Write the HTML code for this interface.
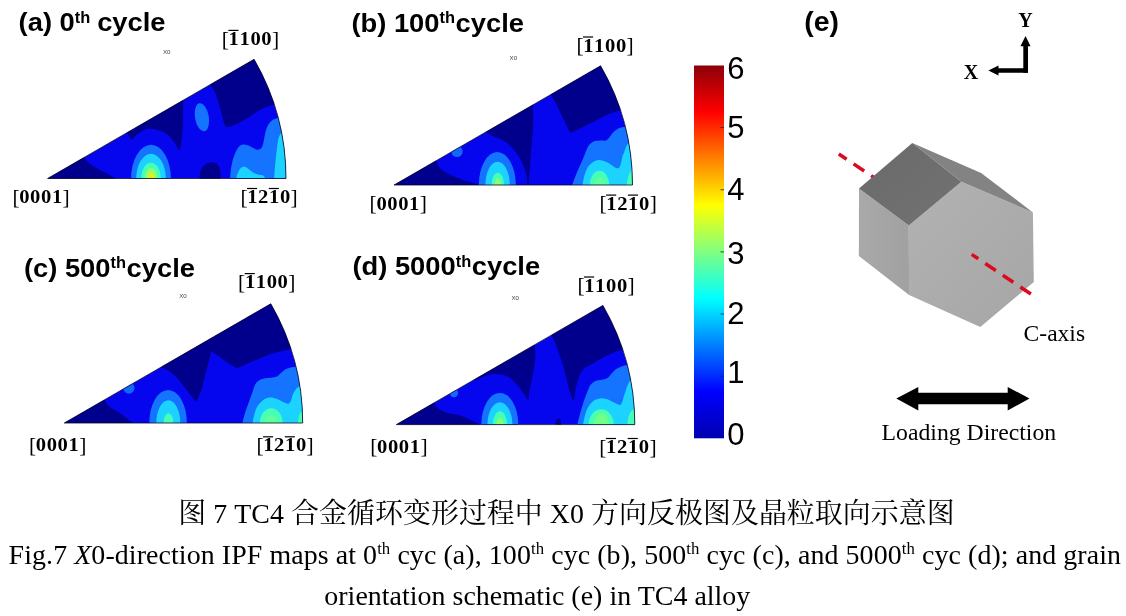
<!DOCTYPE html>
<html lang="zh"><head><meta charset="utf-8"><title>Fig.7</title>
<style>
html,body{margin:0;padding:0;background:#fff;}
body{width:1126px;height:616px;overflow:hidden;}
svg{display:block;}
text{white-space:pre;}
</style></head><body>
<svg width="1126" height="616" viewBox="0 0 1126 616">
<rect width="1126" height="616" fill="#ffffff"/>
<clipPath id="ca"><path d="M47.6 178.5 L254.1 59.3 A238.4 238.4 0 0 1 286.0 178.5 Z"/></clipPath>
<g clip-path="url(#ca)">
<path d="M47.6 178.5 L254.1 59.3 A238.4 238.4 0 0 1 286.0 178.5 Z" fill="#0606ee"/>
<path d="M82.7 155.1C83.1 155.6 84.0 157.2 85.0 158.5C86.1 159.9 86.8 161.4 89.0 163.1C91.1 164.9 94.7 167.2 97.7 168.9C100.7 170.6 103.7 171.8 107.0 173.5C110.2 175.3 115.6 178.3 117.4 179.3L117.4 188.5L40.0 188.5L40.0 165.5Z" fill="#00008c"/>
<path d="M183.6 95.0C183.5 97.5 183.3 104.8 183.2 110.0C183.0 115.2 183.0 120.8 182.7 126.2C182.4 131.6 181.9 138.4 181.3 142.4C180.7 146.4 180.1 149.8 179.2 150.2C178.4 150.7 177.5 147.0 176.2 145.1C175.0 143.2 173.3 140.8 171.6 138.9C169.9 137.0 168.2 135.0 165.8 133.6C163.5 132.1 160.8 130.9 157.8 130.1C154.7 129.3 150.4 128.2 147.4 128.7C144.3 129.2 141.4 131.7 139.3 133.1C137.2 134.5 135.9 136.0 134.7 137.1C133.4 138.1 132.8 139.7 131.9 139.6C131.0 139.5 130.0 137.6 129.1 136.4C128.3 135.1 127.2 132.9 126.8 132.2L123.1 119.3L183.6 84.6Z" fill="#00008c"/>
<path d="M199.3 181.6C199.6 179.8 199.5 173.5 200.7 170.5C201.9 167.5 204.4 165.0 206.7 163.6C209.1 162.3 212.6 161.7 214.8 162.5C216.9 163.2 218.6 165.0 219.6 168.2C220.7 171.4 220.8 179.4 221.0 181.6L221.0 188.5L199.3 188.5Z" fill="#00008c"/>
<path d="M283.0 102.0C281.8 102.4 278.1 103.5 275.5 104.3C272.9 105.1 269.9 105.8 267.7 106.6C265.4 107.4 263.4 108.3 262.0 109.0C260.6 109.7 260.2 109.8 259.0 110.5C257.8 111.2 256.4 112.2 254.5 113.4C252.6 114.7 250.1 116.5 247.7 118.0C245.2 119.5 242.5 121.2 239.8 122.5C237.2 123.8 233.9 125.2 231.8 125.9C229.7 126.7 228.4 127.2 227.2 127.0C226.0 126.8 225.5 126.0 224.8 124.8C224.1 123.6 223.8 122.2 223.2 120.0C222.6 117.8 222.0 114.7 221.1 111.4C220.2 108.1 218.8 103.4 217.7 100.0C216.6 96.6 215.6 93.6 214.3 90.9C213.0 88.2 211.2 86.2 209.8 83.9C208.4 81.6 206.6 78.2 206.0 77.0L254.0 40.0L300.0 60.0L300.0 100.0Z" fill="#00008c"/>
<ellipse cx="201.9" cy="117.2" rx="6.9" ry="14.2" transform="rotate(-10.0 201.9 117.2)" fill="#1474ff"/>
<path d="M230.0 181.0C230.1 179.8 230.2 176.4 230.4 174.0C230.6 171.6 230.8 169.5 231.3 166.8C231.8 164.1 232.5 160.7 233.5 157.7C234.5 154.7 236.1 150.8 237.5 148.6C238.9 146.4 240.3 145.3 242.0 144.7C243.7 144.1 245.8 144.6 247.7 145.2C249.6 145.8 251.7 147.3 253.4 148.1C255.1 148.9 256.7 149.8 258.0 149.8C259.3 149.8 260.5 149.4 261.4 148.1C262.3 146.8 263.0 144.4 263.6 141.8C264.2 139.2 264.6 135.3 265.3 132.7C266.0 130.0 266.6 127.9 267.6 125.9C268.7 123.9 270.2 122.0 271.6 120.8C273.0 119.6 274.0 119.3 276.1 118.5C278.2 117.7 282.7 116.4 284.0 116.0L292.0 116.0L292.0 185.0L230.0 185.0Z" fill="#1474ff"/>
<path d="M236.2 181.0C236.3 180.2 236.5 177.4 236.8 176.0C237.1 174.6 237.4 173.8 238.1 172.5C238.8 171.2 239.8 168.9 240.9 168.0C242.0 167.1 243.5 166.5 244.9 166.8C246.3 167.1 247.9 168.6 249.4 169.7C250.9 170.8 252.4 172.2 254.0 173.1C255.6 173.9 257.5 174.3 259.1 174.8C260.7 175.3 262.4 174.9 263.6 175.9C264.8 176.9 266.0 180.2 266.5 181.0L266.5 185.0L236.2 185.0Z" fill="#1cd2ff"/>
<path d="M273.9 182.0C274.1 179.5 274.6 171.2 275.0 166.8C275.4 162.4 275.7 159.3 276.1 155.5C276.5 151.7 277.0 147.3 277.5 144.1C278.0 140.9 278.2 138.6 279.3 136.1C280.4 133.6 283.2 130.2 284.0 129.0L292.0 129.0L292.0 185.0L273.9 185.0Z" fill="#1cd2ff"/>
<ellipse cx="151.0" cy="178.5" rx="19.9" ry="33.7" transform="rotate(0.0 151.0 178.5)" fill="#1474ff"/>
<ellipse cx="151.0" cy="178.5" rx="14.8" ry="24.7" transform="rotate(0.0 151.0 178.5)" fill="#1cd2ff"/>
<ellipse cx="151.0" cy="178.5" rx="9.7" ry="15.8" transform="rotate(0.0 151.0 178.5)" fill="#46ffb4"/>
<ellipse cx="151.0" cy="178.5" rx="6.3" ry="10.5" transform="rotate(0.0 151.0 178.5)" fill="#8cff70"/>
<ellipse cx="151.0" cy="178.5" rx="3.6" ry="6.2" transform="rotate(0.0 151.0 178.5)" fill="#dcf028"/>
</g>
<path d="M47.6 178.5 L254.1 59.3 A238.4 238.4 0 0 1 286.0 178.5 Z" fill="none" stroke="#05052a" stroke-width="0.8" stroke-linejoin="miter"/>
<clipPath id="cb"><path d="M394.1 185.0 L600.6 65.8 A238.4 238.4 0 0 1 632.5 185.0 Z"/></clipPath>
<g clip-path="url(#cb)">
<path d="M394.1 185.0 L600.6 65.8 A238.4 238.4 0 0 1 632.5 185.0 Z" fill="#0606ee"/>
<path d="M434.6 158.9C434.9 159.4 435.5 160.3 436.3 161.7C437.0 163.0 437.6 165.1 439.3 167.0C440.9 168.8 442.5 170.7 446.2 172.8C449.8 174.8 456.0 177.3 461.2 179.2C466.4 181.2 473.9 182.9 477.4 184.3C480.8 185.7 481.2 187.2 482.0 187.8L482.0 193.5L385.0 193.5L385.0 170.5Z" fill="#00008c"/>
<path d="M532.8 98.9C532.9 103.1 533.5 116.2 533.2 124.3C532.9 132.4 531.5 140.4 530.9 147.4C530.3 154.3 530.0 159.1 529.5 165.8C529.1 172.6 528.6 184.1 528.4 187.8L527.2 187.8Z" fill="#00008c"/>
<path d="M527.7 187.8C527.4 185.3 527.3 178.0 525.9 172.8C524.4 167.6 522.0 161.5 518.9 156.6C515.8 151.7 511.6 146.6 507.4 143.2C503.1 139.8 497.0 138.1 493.5 136.3C490.1 134.5 488.3 133.6 486.6 132.4C484.9 131.1 483.7 129.5 483.1 128.9L482.0 122.0L532.8 91.9L533.0 124.3L531.4 147.4L530.0 165.8L528.4 187.8Z" fill="#00008c"/>
<path d="M550.0 93.0C551.0 94.8 553.8 99.8 556.0 104.0C558.2 108.2 560.9 113.8 563.0 118.0C565.1 122.2 567.2 127.1 568.5 129.5C569.8 131.9 569.9 132.2 571.0 132.4C572.1 132.6 572.8 131.8 575.0 130.8C577.2 129.8 580.7 128.1 584.1 126.4C587.5 124.7 591.7 122.6 595.5 120.7C599.3 118.8 603.0 116.6 606.8 115.0C610.6 113.4 615.0 112.1 618.2 111.0C621.4 109.9 624.7 108.9 626.0 108.5L640.0 105.0L640.0 40.0L560.0 40.0Z" fill="#00008c"/>
<ellipse cx="457.0" cy="151.5" rx="5.6" ry="5.6" transform="rotate(0.0 457.0 151.5)" fill="#1468f8"/>
<path d="M571.8 187.0C571.9 186.6 571.5 187.1 572.3 184.7C573.1 182.3 575.2 176.6 576.8 172.7C578.4 168.8 580.5 164.4 582.0 161.0C583.5 157.6 584.4 155.0 585.5 152.4C586.6 149.8 587.3 147.5 588.6 145.7C589.9 143.9 591.3 142.5 593.2 141.7C595.1 140.8 597.9 140.8 600.0 140.6C602.1 140.4 604.2 141.1 605.7 140.6C607.2 140.1 607.8 139.1 609.1 137.7C610.4 136.3 611.9 133.6 613.6 132.0C615.3 130.4 617.6 128.9 619.3 128.1C621.0 127.2 621.8 127.2 623.9 126.9C626.0 126.6 630.6 126.2 632.0 126.0L640.0 126.0L640.0 190.0L571.8 190.0Z" fill="#1474ff"/>
<path d="M582.2 187.0C582.2 186.6 582.2 186.5 582.5 184.7C582.8 182.9 583.5 178.8 584.2 176.1C585.0 173.4 585.8 170.9 587.0 168.8C588.2 166.6 589.9 164.5 591.6 163.1C593.3 161.7 595.4 160.6 597.3 160.2C599.2 159.8 601.1 160.3 603.0 160.8C604.9 161.3 606.7 162.1 608.6 163.1C610.5 164.1 612.7 166.2 614.3 167.0C615.9 167.8 617.2 168.6 618.3 168.2C619.3 167.8 619.9 166.7 620.6 164.8C621.3 162.9 621.7 159.0 622.3 156.8C622.9 154.6 623.6 153.5 624.4 151.4C625.2 149.3 626.0 146.2 627.3 144.5C628.6 142.8 631.2 141.6 632.0 141.0L640.0 141.0L640.0 190.0L582.2 190.0Z" fill="#1cd2ff"/>
<ellipse cx="599.5" cy="185.0" rx="9.7" ry="14.2" transform="rotate(0.0 599.5 185.0)" fill="#46ffb4"/>
<ellipse cx="599.5" cy="185.0" rx="5.0" ry="7.5" transform="rotate(0.0 599.5 185.0)" fill="#60ff98"/>
<path d="M626.6 187.0C626.6 186.6 626.6 186.2 626.8 184.7C627.0 183.2 627.5 180.0 628.0 178.0C628.5 176.0 629.2 173.9 630.0 172.5C630.8 171.1 632.5 170.0 633.0 169.5L640.0 169.0L640.0 190.0L626.6 190.0Z" fill="#46ffb4"/>
<ellipse cx="497.3" cy="185.0" rx="18.5" ry="33.0" transform="rotate(0.0 497.3 185.0)" fill="#1474ff"/>
<ellipse cx="497.6" cy="185.0" rx="12.2" ry="23.3" transform="rotate(0.0 497.6 185.0)" fill="#1cd2ff"/>
<ellipse cx="497.8" cy="185.0" rx="6.2" ry="12.2" transform="rotate(0.0 497.8 185.0)" fill="#46ffb4"/>
<ellipse cx="497.8" cy="185.0" rx="3.2" ry="6.5" transform="rotate(0.0 497.8 185.0)" fill="#8cff70"/>
</g>
<path d="M394.1 185.0 L600.6 65.8 A238.4 238.4 0 0 1 632.5 185.0 Z" fill="none" stroke="#05052a" stroke-width="0.8" stroke-linejoin="miter"/>
<clipPath id="cc"><path d="M64.3 423.0 L270.8 303.8 A238.4 238.4 0 0 1 302.7 423.0 Z"/></clipPath>
<g clip-path="url(#cc)">
<path d="M64.3 423.0 L270.8 303.8 A238.4 238.4 0 0 1 302.7 423.0 Z" fill="#0606ee"/>
<path d="M102.3 396.9C102.7 397.4 103.6 398.1 104.6 399.7C105.7 401.2 106.1 403.9 108.6 406.1C111.1 408.4 115.7 410.3 119.7 413.1C123.6 415.8 129.9 420.7 132.4 422.8C134.9 424.9 134.3 425.3 134.7 425.8L134.7 431.5L55.0 431.5L55.0 408.5Z" fill="#00008c"/>
<path d="M156.0 362.0L270.3 285.0L312.0 330.0L303.0 346.5L290.5 349.3L282.5 351.0L271.1 353.8L259.8 358.4L248.4 363.2L238.5 367.6L237.0 368.0L235.5 367.4L230.2 364.6L221.1 358.0L211.5 351.0L208.6 361.8L205.2 375.5L201.8 389.1L197.5 399.5L195.9 401.4L194.5 400.0L190.2 394.8L183.4 385.7L175.5 376.0L168.0 370.2L160.7 367.0Z" fill="#00008c"/>
<ellipse cx="128.9" cy="388.1" rx="5.6" ry="5.6" transform="rotate(0.0 128.9 388.1)" fill="#1468f8"/>
<path d="M241.8 426.0C241.9 425.5 241.8 425.4 242.3 423.2C242.9 421.0 244.0 416.3 245.1 412.7C246.2 409.1 247.9 404.8 249.1 401.4C250.3 398.0 251.4 395.2 252.4 392.4C253.4 389.6 254.0 386.6 255.2 384.5C256.4 382.4 258.1 381.0 259.8 380.0C261.5 379.0 263.6 378.7 265.5 378.3C267.4 377.9 269.2 378.0 271.1 377.7C273.0 377.4 275.3 377.3 276.8 376.6C278.3 375.9 278.9 374.9 280.2 373.8C281.5 372.6 283.1 370.8 284.8 369.8C286.5 368.8 288.8 368.0 290.5 367.5C292.2 367.0 292.9 367.1 295.0 366.9C297.1 366.6 301.7 366.1 303.0 366.0L310.0 366.0L310.0 428.0L241.8 428.0Z" fill="#1474ff"/>
<path d="M252.2 426.0C252.2 425.5 252.2 425.0 252.5 423.2C252.8 421.4 253.4 417.7 254.2 415.0C254.9 412.3 255.8 409.3 257.0 407.0C258.2 404.7 259.9 402.9 261.6 401.4C263.3 399.9 265.2 398.6 267.3 398.0C269.4 397.4 272.0 397.6 274.1 398.0C276.2 398.4 277.9 399.3 279.8 400.2C281.7 401.1 284.0 402.5 285.5 403.1C287.0 403.7 288.0 404.1 288.9 403.6C289.8 403.1 290.5 401.7 291.1 400.2C291.8 398.7 292.2 396.1 292.8 394.5C293.4 392.9 294.1 391.8 295.0 390.5C295.9 389.2 297.1 387.8 298.4 386.8C299.7 385.8 302.2 384.9 303.0 384.5L310.0 384.0L310.0 428.0L252.2 428.0Z" fill="#1cd2ff"/>
<ellipse cx="271.2" cy="423.0" rx="11.4" ry="14.8" transform="rotate(0.0 271.2 423.0)" fill="#46ffb4"/>
<ellipse cx="271.2" cy="423.0" rx="6.0" ry="8.0" transform="rotate(0.0 271.2 423.0)" fill="#60ff98"/>
<path d="M297.8 426.0C297.8 425.5 297.8 424.9 298.0 423.2C298.2 421.5 298.5 417.9 299.0 416.0C299.5 414.1 300.2 413.0 301.0 412.0C301.8 411.0 303.5 410.3 304.0 410.0L310.0 410.0L310.0 428.0L297.8 428.0Z" fill="#46ffb4"/>
<ellipse cx="168.1" cy="423.0" rx="18.8" ry="33.0" transform="rotate(0.0 168.1 423.0)" fill="#1474ff"/>
<ellipse cx="168.3" cy="423.0" rx="12.0" ry="22.7" transform="rotate(0.0 168.3 423.0)" fill="#1cd2ff"/>
<ellipse cx="168.5" cy="423.0" rx="4.9" ry="9.8" transform="rotate(0.0 168.5 423.0)" fill="#46ffb4"/>
</g>
<path d="M64.3 423.0 L270.8 303.8 A238.4 238.4 0 0 1 302.7 423.0 Z" fill="none" stroke="#05052a" stroke-width="0.8" stroke-linejoin="miter"/>
<clipPath id="cd"><path d="M396.4 424.6 L602.9 305.4 A238.4 238.4 0 0 1 634.8 424.6 Z"/></clipPath>
<g clip-path="url(#cd)">
<path d="M396.4 424.6 L602.9 305.4 A238.4 238.4 0 0 1 634.8 424.6 Z" fill="#0606ee"/>
<path d="M432.0 400.1C432.4 400.5 433.5 401.3 434.3 402.6C435.2 403.9 435.2 406.4 437.3 408.1C439.5 409.8 443.5 411.6 447.0 412.8C450.6 413.9 455.1 414.1 458.6 415.1C462.0 416.1 464.4 417.2 467.8 418.8C471.3 420.3 476.9 422.8 479.4 424.3C481.9 425.8 482.2 427.2 482.8 427.8L482.8 433.5L387.0 433.5L387.0 410.5Z" fill="#00008c"/>
<path d="M534.8 338.9C534.9 342.3 535.6 353.5 535.2 359.7C534.9 365.8 533.5 370.4 532.5 375.8C531.5 381.2 530.0 388.0 529.2 392.0C528.5 395.9 529.2 399.6 528.1 399.6C527.0 399.6 524.9 394.8 522.8 392.0C520.6 389.2 517.8 385.4 515.2 382.7C512.5 380.1 510.3 377.7 507.1 376.3C503.8 374.8 499.4 374.0 495.5 374.0C491.7 374.0 487.3 375.3 484.0 376.3C480.7 377.3 477.8 379.7 475.9 380.0C474.0 380.3 473.0 378.4 472.4 378.1L470.1 368.9L534.8 329.6Z" fill="#00008c"/>
<path d="M628.0 348.5C626.8 348.8 622.6 350.1 621.0 350.5C619.4 350.9 620.0 350.4 618.2 351.0C616.4 351.6 613.1 352.7 610.2 353.9C607.4 355.1 604.1 356.7 601.1 358.4C598.1 360.1 594.8 362.4 592.0 364.1C589.2 365.8 586.2 366.7 584.1 368.6C582.0 370.5 580.8 372.5 579.5 375.5C578.2 378.5 577.1 382.6 576.1 386.8C575.1 391.0 574.5 399.4 573.6 400.5C572.7 401.6 571.6 396.8 570.5 393.6C569.4 390.4 568.3 386.0 567.0 381.1C565.7 376.2 564.2 369.8 562.5 364.1C560.8 358.4 558.5 351.6 556.8 347.0C555.1 342.4 553.6 339.6 552.3 336.8C551.0 334.0 549.5 331.1 549.0 330.0L560.0 280.0L642.0 280.0L642.0 345.0Z" fill="#00008c"/>
<path d="M555.1 427.8C555.3 426.6 555.5 422.4 556.0 420.8C556.6 419.3 557.6 418.5 558.3 418.5C559.1 418.5 560.1 419.3 560.6 420.8C561.2 422.4 561.4 426.6 561.6 427.8L561.6 433.5L555.1 433.5Z" fill="#00008c"/>
<ellipse cx="454.0" cy="393.1" rx="4.2" ry="4.2" transform="rotate(0.0 454.0 393.1)" fill="#1468f8"/>
<path d="M576.9 428.0C577.0 427.4 576.9 426.6 577.4 424.4C577.9 422.2 578.8 418.5 579.7 415.0C580.7 411.5 582.0 407.0 583.1 403.6C584.2 400.2 585.3 397.2 586.2 394.8C587.1 392.4 587.7 390.7 588.5 389.0C589.3 387.3 589.5 385.9 590.9 384.5C592.2 383.1 594.5 381.5 596.6 380.6C598.7 379.8 601.5 379.9 603.4 379.4C605.3 378.9 606.7 378.6 608.0 377.7C609.3 376.8 610.1 375.2 611.4 373.8C612.7 372.3 614.2 370.4 615.9 369.2C617.6 368.0 619.9 367.1 621.6 366.4C623.3 365.7 624.0 365.6 626.1 365.2C628.2 364.8 632.7 364.2 634.0 364.0L642.0 364.0L642.0 430.0L576.9 430.0Z" fill="#1474ff"/>
<path d="M582.8 428.0C582.8 427.4 582.8 426.4 583.1 424.4C583.4 422.4 584.0 418.8 584.8 416.1C585.5 413.4 586.3 410.6 587.6 408.2C588.9 405.8 590.7 403.0 592.7 401.4C594.7 399.8 597.2 398.9 599.5 398.5C601.8 398.1 604.3 398.6 606.4 399.1C608.5 399.6 610.1 400.5 612.0 401.4C613.9 402.2 616.3 403.6 617.7 404.2C619.1 404.8 619.8 405.3 620.6 404.8C621.4 404.3 621.7 402.9 622.3 401.4C622.9 399.9 623.4 397.5 624.0 395.7C624.6 393.9 625.1 392.6 625.8 390.5C626.5 388.4 627.6 385.0 628.4 383.4C629.2 381.8 629.4 381.3 630.5 380.6C631.6 379.9 634.2 379.3 635.0 379.0L642.0 379.0L642.0 430.0L582.8 430.0Z" fill="#1cd2ff"/>
<ellipse cx="601.2" cy="424.6" rx="12.5" ry="15.3" transform="rotate(0.0 601.2 424.6)" fill="#46ffb4"/>
<ellipse cx="601.5" cy="424.6" rx="7.7" ry="11.5" transform="rotate(0.0 601.5 424.6)" fill="#70ff88"/>
<path d="M627.2 428.0C627.2 427.4 627.2 426.2 627.4 424.4C627.6 422.6 627.9 419.1 628.5 417.0C629.1 414.9 630.1 412.8 631.0 411.5C631.9 410.2 633.5 409.8 634.0 409.5L642.0 409.0L642.0 430.0L627.2 430.0Z" fill="#46ffb4"/>
<ellipse cx="499.8" cy="424.6" rx="18.5" ry="31.7" transform="rotate(0.0 499.8 424.6)" fill="#1474ff"/>
<ellipse cx="499.9" cy="424.6" rx="12.5" ry="22.4" transform="rotate(0.0 499.9 424.6)" fill="#1cd2ff"/>
<ellipse cx="500.0" cy="424.6" rx="7.0" ry="13.3" transform="rotate(0.0 500.0 424.6)" fill="#46ffb4"/>
<ellipse cx="500.0" cy="424.6" rx="3.5" ry="6.5" transform="rotate(0.0 500.0 424.6)" fill="#8cff70"/>
</g>
<path d="M396.4 424.6 L602.9 305.4 A238.4 238.4 0 0 1 634.8 424.6 Z" fill="none" stroke="#05052a" stroke-width="0.8" stroke-linejoin="miter"/>
<text transform="translate(18.6 31.2) scale(1.052 1)" font-family='"Liberation Sans", sans-serif' font-weight="700" font-size="26" fill="#000">(a) 0<tspan font-size="15.6" dy="-8.5">th</tspan><tspan dy="8.5" dx="6.5">cycle</tspan></text>
<text transform="translate(351.4 31.5) scale(1.052 1)" font-family='"Liberation Sans", sans-serif' font-weight="700" font-size="26" fill="#000">(b) 100<tspan font-size="15.6" dy="-8.5">th</tspan><tspan dy="8.5" dx="0.5">cycle</tspan></text>
<text transform="translate(23.9 276.6) scale(1.052 1)" font-family='"Liberation Sans", sans-serif' font-weight="700" font-size="26" fill="#000">(c) 500<tspan font-size="15.6" dy="-8.5">th</tspan><tspan dy="8.5" dx="0.5">cycle</tspan></text>
<text transform="translate(352.4 275.3) scale(1.052 1)" font-family='"Liberation Sans", sans-serif' font-weight="700" font-size="26" fill="#000">(d) 5000<tspan font-size="15.6" dy="-8.5">th</tspan><tspan dy="8.5" dx="0.5">cycle</tspan></text>
<text transform="translate(804.2 30.6) scale(1.03 1)" font-family='"Liberation Sans", sans-serif' font-weight="700" font-size="27.5" fill="#000">(e)</text>
<text y="45.0" font-family='"Liberation Serif", serif' font-size="17.9" fill="#000"><tspan x="221.8" y="45.5" font-size="21.5">[</tspan><tspan x="228.6" y="45.0" font-weight="700" textLength="10.3" lengthAdjust="spacingAndGlyphs">1</tspan><tspan x="239.5" y="45.0" font-weight="700" textLength="10.3" lengthAdjust="spacingAndGlyphs">1</tspan><tspan x="250.4" y="45.0" font-weight="700" textLength="10.3" lengthAdjust="spacingAndGlyphs">0</tspan><tspan x="261.3" y="45.0" font-weight="700" textLength="10.3" lengthAdjust="spacingAndGlyphs">0</tspan><tspan x="272.0" y="45.5" font-size="21.5">]</tspan></text>
<rect x="228.4" y="29.8" width="10.1" height="1.2" fill="#000"/>
<text y="203.4" font-family='"Liberation Serif", serif' font-size="17.9" fill="#000"><tspan x="12.4" y="203.9" font-size="21.5">[</tspan><tspan x="19.2" y="203.4" font-weight="700" textLength="10.3" lengthAdjust="spacingAndGlyphs">0</tspan><tspan x="30.1" y="203.4" font-weight="700" textLength="10.3" lengthAdjust="spacingAndGlyphs">0</tspan><tspan x="41.0" y="203.4" font-weight="700" textLength="10.3" lengthAdjust="spacingAndGlyphs">0</tspan><tspan x="51.9" y="203.4" font-weight="700" textLength="10.3" lengthAdjust="spacingAndGlyphs">1</tspan><tspan x="62.6" y="203.9" font-size="21.5">]</tspan></text>
<text y="203.1" font-family='"Liberation Serif", serif' font-size="17.9" fill="#000"><tspan x="240.4" y="203.6" font-size="21.5">[</tspan><tspan x="247.2" y="203.1" font-weight="700" textLength="10.3" lengthAdjust="spacingAndGlyphs">1</tspan><tspan x="258.1" y="203.1" font-weight="700" textLength="10.3" lengthAdjust="spacingAndGlyphs">2</tspan><tspan x="269.0" y="203.1" font-weight="700" textLength="10.3" lengthAdjust="spacingAndGlyphs">1</tspan><tspan x="279.9" y="203.1" font-weight="700" textLength="10.3" lengthAdjust="spacingAndGlyphs">0</tspan><tspan x="290.6" y="203.6" font-size="21.5">]</tspan></text>
<rect x="247.0" y="187.9" width="10.1" height="1.2" fill="#000"/>
<rect x="268.8" y="187.9" width="10.1" height="1.2" fill="#000"/>
<text y="51.6" font-family='"Liberation Serif", serif' font-size="17.9" fill="#000"><tspan x="576.4" y="52.1" font-size="21.5">[</tspan><tspan x="583.2" y="51.6" font-weight="700" textLength="10.3" lengthAdjust="spacingAndGlyphs">1</tspan><tspan x="594.1" y="51.6" font-weight="700" textLength="10.3" lengthAdjust="spacingAndGlyphs">1</tspan><tspan x="605.0" y="51.6" font-weight="700" textLength="10.3" lengthAdjust="spacingAndGlyphs">0</tspan><tspan x="615.9" y="51.6" font-weight="700" textLength="10.3" lengthAdjust="spacingAndGlyphs">0</tspan><tspan x="626.6" y="52.1" font-size="21.5">]</tspan></text>
<rect x="583.0" y="36.4" width="10.1" height="1.2" fill="#000"/>
<text y="209.9" font-family='"Liberation Serif", serif' font-size="17.9" fill="#000"><tspan x="369.6" y="210.4" font-size="21.5">[</tspan><tspan x="376.4" y="209.9" font-weight="700" textLength="10.3" lengthAdjust="spacingAndGlyphs">0</tspan><tspan x="387.3" y="209.9" font-weight="700" textLength="10.3" lengthAdjust="spacingAndGlyphs">0</tspan><tspan x="398.2" y="209.9" font-weight="700" textLength="10.3" lengthAdjust="spacingAndGlyphs">0</tspan><tspan x="409.1" y="209.9" font-weight="700" textLength="10.3" lengthAdjust="spacingAndGlyphs">1</tspan><tspan x="419.8" y="210.4" font-size="21.5">]</tspan></text>
<text y="209.7" font-family='"Liberation Serif", serif' font-size="17.9" fill="#000"><tspan x="599.5" y="210.2" font-size="21.5">[</tspan><tspan x="606.3" y="209.7" font-weight="700" textLength="10.3" lengthAdjust="spacingAndGlyphs">1</tspan><tspan x="617.2" y="209.7" font-weight="700" textLength="10.3" lengthAdjust="spacingAndGlyphs">2</tspan><tspan x="628.1" y="209.7" font-weight="700" textLength="10.3" lengthAdjust="spacingAndGlyphs">1</tspan><tspan x="639.0" y="209.7" font-weight="700" textLength="10.3" lengthAdjust="spacingAndGlyphs">0</tspan><tspan x="649.7" y="210.2" font-size="21.5">]</tspan></text>
<rect x="606.1" y="194.5" width="10.1" height="1.2" fill="#000"/>
<rect x="627.9" y="194.5" width="10.1" height="1.2" fill="#000"/>
<text y="288.2" font-family='"Liberation Serif", serif' font-size="17.9" fill="#000"><tspan x="238.1" y="288.7" font-size="21.5">[</tspan><tspan x="244.9" y="288.2" font-weight="700" textLength="10.3" lengthAdjust="spacingAndGlyphs">1</tspan><tspan x="255.8" y="288.2" font-weight="700" textLength="10.3" lengthAdjust="spacingAndGlyphs">1</tspan><tspan x="266.7" y="288.2" font-weight="700" textLength="10.3" lengthAdjust="spacingAndGlyphs">0</tspan><tspan x="277.6" y="288.2" font-weight="700" textLength="10.3" lengthAdjust="spacingAndGlyphs">0</tspan><tspan x="288.3" y="288.7" font-size="21.5">]</tspan></text>
<rect x="244.7" y="273.0" width="10.1" height="1.2" fill="#000"/>
<text y="451.4" font-family='"Liberation Serif", serif' font-size="17.9" fill="#000"><tspan x="29.0" y="451.9" font-size="21.5">[</tspan><tspan x="35.8" y="451.4" font-weight="700" textLength="10.3" lengthAdjust="spacingAndGlyphs">0</tspan><tspan x="46.7" y="451.4" font-weight="700" textLength="10.3" lengthAdjust="spacingAndGlyphs">0</tspan><tspan x="57.6" y="451.4" font-weight="700" textLength="10.3" lengthAdjust="spacingAndGlyphs">0</tspan><tspan x="68.5" y="451.4" font-weight="700" textLength="10.3" lengthAdjust="spacingAndGlyphs">1</tspan><tspan x="79.2" y="451.9" font-size="21.5">]</tspan></text>
<text y="451.4" font-family='"Liberation Serif", serif' font-size="17.9" fill="#000"><tspan x="256.4" y="451.9" font-size="21.5">[</tspan><tspan x="263.2" y="451.4" font-weight="700" textLength="10.3" lengthAdjust="spacingAndGlyphs">1</tspan><tspan x="274.1" y="451.4" font-weight="700" textLength="10.3" lengthAdjust="spacingAndGlyphs">2</tspan><tspan x="285.0" y="451.4" font-weight="700" textLength="10.3" lengthAdjust="spacingAndGlyphs">1</tspan><tspan x="295.9" y="451.4" font-weight="700" textLength="10.3" lengthAdjust="spacingAndGlyphs">0</tspan><tspan x="306.6" y="451.9" font-size="21.5">]</tspan></text>
<rect x="263.0" y="436.2" width="10.1" height="1.2" fill="#000"/>
<rect x="284.8" y="436.2" width="10.1" height="1.2" fill="#000"/>
<text y="291.6" font-family='"Liberation Serif", serif' font-size="17.9" fill="#000"><tspan x="577.4" y="292.1" font-size="21.5">[</tspan><tspan x="584.2" y="291.6" font-weight="700" textLength="10.3" lengthAdjust="spacingAndGlyphs">1</tspan><tspan x="595.1" y="291.6" font-weight="700" textLength="10.3" lengthAdjust="spacingAndGlyphs">1</tspan><tspan x="606.0" y="291.6" font-weight="700" textLength="10.3" lengthAdjust="spacingAndGlyphs">0</tspan><tspan x="616.9" y="291.6" font-weight="700" textLength="10.3" lengthAdjust="spacingAndGlyphs">0</tspan><tspan x="627.6" y="292.1" font-size="21.5">]</tspan></text>
<rect x="584.0" y="276.4" width="10.1" height="1.2" fill="#000"/>
<text y="452.8" font-family='"Liberation Serif", serif' font-size="17.9" fill="#000"><tspan x="370.2" y="453.3" font-size="21.5">[</tspan><tspan x="377.0" y="452.8" font-weight="700" textLength="10.3" lengthAdjust="spacingAndGlyphs">0</tspan><tspan x="387.9" y="452.8" font-weight="700" textLength="10.3" lengthAdjust="spacingAndGlyphs">0</tspan><tspan x="398.8" y="452.8" font-weight="700" textLength="10.3" lengthAdjust="spacingAndGlyphs">0</tspan><tspan x="409.7" y="452.8" font-weight="700" textLength="10.3" lengthAdjust="spacingAndGlyphs">1</tspan><tspan x="420.4" y="453.3" font-size="21.5">]</tspan></text>
<text y="453.1" font-family='"Liberation Serif", serif' font-size="17.9" fill="#000"><tspan x="599.3" y="453.6" font-size="21.5">[</tspan><tspan x="606.1" y="453.1" font-weight="700" textLength="10.3" lengthAdjust="spacingAndGlyphs">1</tspan><tspan x="617.0" y="453.1" font-weight="700" textLength="10.3" lengthAdjust="spacingAndGlyphs">2</tspan><tspan x="627.9" y="453.1" font-weight="700" textLength="10.3" lengthAdjust="spacingAndGlyphs">1</tspan><tspan x="638.8" y="453.1" font-weight="700" textLength="10.3" lengthAdjust="spacingAndGlyphs">0</tspan><tspan x="649.5" y="453.6" font-size="21.5">]</tspan></text>
<rect x="605.9" y="437.9" width="10.1" height="1.2" fill="#000"/>
<rect x="627.7" y="437.9" width="10.1" height="1.2" fill="#000"/>
<text x="162.9" y="53.7" font-family='"Liberation Sans", sans-serif' font-size="6.2" fill="#444">X0</text>
<text x="509.5" y="60.4" font-family='"Liberation Sans", sans-serif' font-size="6.2" fill="#444">X0</text>
<text x="179.2" y="298.4" font-family='"Liberation Sans", sans-serif' font-size="6.2" fill="#444">X0</text>
<text x="511.4" y="300.4" font-family='"Liberation Sans", sans-serif' font-size="6.2" fill="#444">X0</text>
<defs><linearGradient id="jet" x1="0" y1="1" x2="0" y2="0"><stop offset="0" stop-color="#0000b0"/><stop offset="0.125" stop-color="#0000ff"/><stop offset="0.375" stop-color="#00ffff"/><stop offset="0.5" stop-color="#80ff80"/><stop offset="0.625" stop-color="#ffff00"/><stop offset="0.875" stop-color="#ff0000"/><stop offset="1" stop-color="#8c0008"/></linearGradient></defs>
<rect x="694" y="65.5" width="30" height="372.8" fill="url(#jet)"/>
<text x="727.3" y="445.1" font-family='"Liberation Sans", sans-serif' font-size="31" fill="#000">0</text>
<text x="727.3" y="382.8" font-family='"Liberation Sans", sans-serif' font-size="31" fill="#000">1</text>
<text x="727.3" y="324.4" font-family='"Liberation Sans", sans-serif' font-size="31" fill="#000">2</text>
<text x="727.3" y="264.1" font-family='"Liberation Sans", sans-serif' font-size="31" fill="#000">3</text>
<text x="727.3" y="199.5" font-family='"Liberation Sans", sans-serif' font-size="31" fill="#000">4</text>
<text x="727.3" y="138.4" font-family='"Liberation Sans", sans-serif' font-size="31" fill="#000">5</text>
<text x="727.3" y="79.2" font-family='"Liberation Sans", sans-serif' font-size="31" fill="#000">6</text>
<rect x="720.5" y="375.8" width="3.5" height="0.8" fill="#222"/>
<rect x="720.5" y="313.6" width="3.5" height="0.8" fill="#222"/>
<rect x="720.5" y="251.5" width="3.5" height="0.8" fill="#222"/>
<rect x="720.5" y="189.4" width="3.5" height="0.8" fill="#222"/>
<rect x="720.5" y="127.2" width="3.5" height="0.8" fill="#222"/>
<text x="1018.3" y="26.8" font-family='"Liberation Serif", serif' font-weight="700" font-size="20" fill="#000">Y</text>
<text x="963.7" y="78.8" font-family='"Liberation Serif", serif' font-weight="700" font-size="20" fill="#000">X</text>
<path d="M1023.3 72.7 V46.3 H1020.4 L1025.5 36 L1030.6 46.3 H1028 V72.7 Z" fill="#000"/>
<path d="M1028 68.2 H998.5 V65.6 L988.4 70.5 L998.5 75.5 V72.7 H1028 Z" fill="#000"/>
<defs><linearGradient id="gfront" x1="0" y1="0" x2="1" y2="1"><stop offset="0" stop-color="#b2b2b2"/><stop offset="1" stop-color="#a6a6a6"/></linearGradient><linearGradient id="gleft" x1="0" y1="0" x2="1" y2="0"><stop offset="0" stop-color="#a9a9a9"/><stop offset="1" stop-color="#a1a1a1"/></linearGradient><linearGradient id="gtop" x1="0" y1="0" x2="1" y2="1"><stop offset="0" stop-color="#6a6a6a"/><stop offset="1" stop-color="#727272"/></linearGradient></defs>
<path d="M838.8 154 L877 179.5" stroke="#dc0a1e" stroke-width="3.5" stroke-dasharray="12.7 8.4" stroke-dashoffset="3.3" fill="none"/>
<path d="M859.0 188.4L908.8 225.5L909.1 295.0L858.9 256.0Z" fill="url(#gleft)"/>
<path d="M961.4 181.8L1032.9 212.5L1033.8 282.0L980.3 327.0L909.1 295.0L908.8 225.5Z" fill="url(#gfront)"/>
<path d="M912.3 142.9L981.1 172.9L1032.9 212.5L961.4 181.8Z" fill="#838383"/>
<path d="M912.3 142.9L859.0 188.4L908.8 225.5L961.4 181.8Z" fill="url(#gtop)"/>
<path d="M971.7 254.4 L1030.9 294" stroke="#dc0a1e" stroke-width="3.5" stroke-dasharray="12.7 8.4" stroke-dashoffset="4.8" fill="none"/>
<text x="1023.6" y="341.0" font-family='"Liberation Serif", serif' font-size="23.6" fill="#000" textLength="61.5" lengthAdjust="spacingAndGlyphs">C-axis</text>
<path d="M896.3 398.5 L918.3 386.9 V392.7 H1007.7 V386.9 L1029.5 398.5 L1007.7 410.5 V404.3 H918.3 V410.5 Z" fill="#000"/>
<text x="881.6" y="439.7" font-family='"Liberation Serif", serif' font-size="23.5" fill="#000" textLength="174.5" lengthAdjust="spacingAndGlyphs">Loading Direction</text>
<text x="178.2" y="522.9" font-family='"Liberation Serif", "Noto Serif CJK SC", serif' font-size="27.9" fill="#000" textLength="776.4" lengthAdjust="spacing">图 7 TC4 合金循环变形过程中 X0 方向反极图及晶粒取向示意图</text>
<text x="8.6" y="563.6" font-family='"Liberation Serif", serif' font-size="27.9" fill="#000" textLength="1112.4" lengthAdjust="spacing">Fig.7 <tspan font-style="italic">X</tspan>0-direction IPF maps at 0<tspan font-size="16.74" dy="-9.7">th</tspan><tspan dy="9.7"> </tspan>cyc (a), 100<tspan font-size="16.74" dy="-9.7">th</tspan><tspan dy="9.7"> </tspan>cyc (b), 500<tspan font-size="16.74" dy="-9.7">th</tspan><tspan dy="9.7"> </tspan>cyc (c), and 5000<tspan font-size="16.74" dy="-9.7">th</tspan><tspan dy="9.7"> </tspan>cyc (d); and grain</text>
<text x="324.3" y="605.0" font-family='"Liberation Serif", serif' font-size="27.9" fill="#000" textLength="426" lengthAdjust="spacing">orientation schematic (e) in TC4 alloy</text>
</svg>
</body></html>
